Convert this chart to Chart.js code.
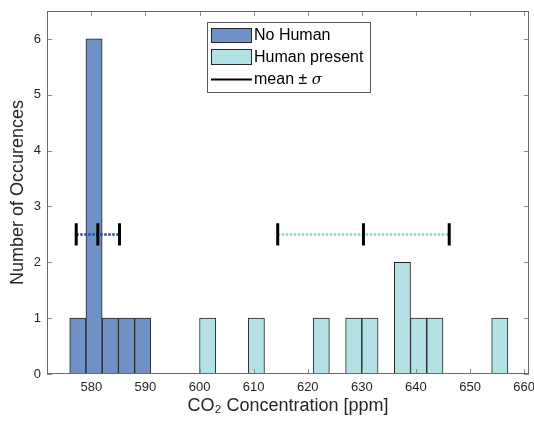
<!DOCTYPE html>
<html>
<head>
<meta charset="utf-8">
<script src="https://cdn.jsdelivr.net/npm/chart.js@4/dist/chart.umd.min.js"></script>
<style>
  html, body { margin: 0; padding: 0; background: #fff; }
  canvas { display: block; }
</style>
</head>
<body>
<canvas id="chart" width="534" height="426"></canvas>
<script>
// Histogram bins (bin width 3 ppm)
const noHumanCenters = [577.5, 580.5, 583.5, 586.5, 589.5];
const noHumanCounts = [1, 6, 1, 1, 1];
const humanCenters = [601.5, 610.5, 622.5, 628.5, 631.5, 637.5, 640.5, 643.5, 655.5];
const humanCounts = [1, 1, 1, 1, 1, 2, 1, 1, 1];
// empty human bins still leave their edge on the baseline
const humanBinRange = [600, 657];

// mean +- sigma markers
const groupMeans = [581.2, 630.3];
const groupSigmas = [4.0, 15.85];
const markerLevel = 2.5;
const capHalfHeight = 0.2;

const xTicks = [580, 590, 600, 610, 620, 630, 640, 650, 660];
const yTicks = [0, 1, 2, 3, 4, 5, 6];
const legendLabels = ['No Human', 'Human present', 'mean \u00b1 '];

const COLORS = {
    noHuman: '#7091c5',
    human: '#b4e2e4',
    edge: '#262626',
    noHumanMean: '#1d4f9f',
    humanMean: '#86d3d6',
    text: '#262626'
};
const FONT = '"Liberation Sans", Arial, sans-serif';

function toPoints(xs, ys) {
    return xs.map((x, i) => ({ x: x, y: ys[i] }));
}

// horizontal dotted line for one group
function meanLine(i) {
    return [
        { x: groupMeans[i] - groupSigmas[i], y: markerLevel },
        { x: groupMeans[i] + groupSigmas[i], y: markerLevel }
    ];
}

// three vertical caps (left, mean, right) separated by gaps
function meanCaps(i) {
    const pts = [];
    [-1, 0, 1].forEach(k => {
        const x = groupMeans[i] + k * groupSigmas[i];
        pts.push({ x: x, y: markerLevel - capHalfHeight });
        pts.push({ x: x, y: markerLevel + capHalfHeight });
        pts.push({ x: x, y: null });
    });
    return pts;
}

// MATLAB style box with inward ticks
const axesBox = {
    id: 'axesBox',
    afterDatasetsDraw(chart) {
        const { ctx, chartArea: a, scales } = chart;
        ctx.save();
        ctx.lineWidth = 1;
        ctx.strokeStyle = '#8c8c8c';
        ctx.beginPath();
        xTicks.forEach(v => {
            const px = Math.round(scales.x.getPixelForValue(v)) + 0.5;
            ctx.moveTo(px, a.bottom); ctx.lineTo(px, a.bottom - 5);
            ctx.moveTo(px, a.top); ctx.lineTo(px, a.top + 5);
        });
        yTicks.forEach(v => {
            const py = Math.round(scales.y.getPixelForValue(v)) + 0.5;
            ctx.moveTo(a.left, py); ctx.lineTo(a.left + 5, py);
            ctx.moveTo(a.right, py); ctx.lineTo(a.right - 5, py);
        });
        ctx.stroke();
        ctx.strokeStyle = '#6a6a6a';
        ctx.strokeRect(Math.round(a.left) + 0.5, Math.round(a.top) + 0.5,
            Math.round(a.right - a.left) - 1, Math.round(a.bottom - a.top) - 1);
        ctx.restore();
    }
};

// legend box in the upper middle of the axes
const boxLegend = {
    id: 'boxLegend',
    afterDraw(chart) {
        const { ctx, chartArea: a } = chart;
        const left = a.left + 160, top = a.top + 11;
        ctx.save();
        ctx.fillStyle = '#fff';
        ctx.fillRect(left, top, 163, 70);
        ctx.strokeStyle = '#5a5a5a';
        ctx.lineWidth = 1;
        ctx.strokeRect(left + 0.5, top + 0.5, 163, 70);

        ctx.fillStyle = COLORS.noHuman;
        ctx.fillRect(left + 4, top + 6, 41, 15);
        ctx.fillStyle = COLORS.human;
        ctx.fillRect(left + 4, top + 27, 41, 16);
        ctx.strokeStyle = COLORS.edge;
        ctx.strokeRect(left + 4.5, top + 6.5, 40, 14);
        ctx.strokeRect(left + 4.5, top + 27.5, 40, 15);
        ctx.strokeStyle = '#000';
        ctx.lineWidth = 2;
        ctx.beginPath();
        ctx.moveTo(left + 4, top + 57.5);
        ctx.lineTo(left + 45, top + 57.5);
        ctx.stroke();

        ctx.fillStyle = '#000';
        ctx.textBaseline = 'middle';
        ctx.font = '16px ' + FONT;
        ctx.fillText(legendLabels[0], left + 47, top + 14);
        ctx.fillText(legendLabels[1], left + 47, top + 36);
        ctx.fillText(legendLabels[2], left + 47, top + 57.5);
        const w = ctx.measureText(legendLabels[2]).width;
        ctx.font = 'italic 15px "DejaVu Serif", serif';
        ctx.fillText('\u03c3', left + 47 + w, top + 58);
        ctx.restore();
    }
};

const barStyle = {
    borderColor: COLORS.edge,
    borderWidth: 1,
    borderSkipped: false,
    barPercentage: 1,
    categoryPercentage: 1,
    grouped: false,
    order: 2
};

new Chart(document.getElementById('chart'), {
    type: 'bar',
    data: {
        datasets: [
            { label: 'No Human', data: toPoints(noHumanCenters, noHumanCounts), backgroundColor: COLORS.noHuman, ...barStyle },
            { label: 'Human present', data: toPoints(humanCenters, humanCounts), backgroundColor: COLORS.human, ...barStyle },
            {
                type: 'line', data: humanBinRange.map(x => ({ x: x, y: 0 })),
                borderColor: COLORS.edge, borderWidth: 1.5, pointRadius: 0, order: 1
            },
            {
                type: 'line', data: meanLine(0), borderColor: COLORS.noHumanMean,
                borderWidth: 2.5, borderDash: [2.5, 1.5], pointRadius: 0, order: 1
            },
            {
                type: 'line', data: meanLine(1), borderColor: COLORS.humanMean,
                borderWidth: 2.5, borderDash: [2.5, 1.5], pointRadius: 0, order: 1
            },
            {
                type: 'line', data: meanCaps(0), borderColor: '#000',
                borderWidth: 3, pointRadius: 0, spanGaps: false, order: 0
            },
            {
                type: 'line', data: meanCaps(1), borderColor: '#000',
                borderWidth: 3, pointRadius: 0, spanGaps: false, order: 0
            }
        ]
    },
    options: {
        responsive: false,
        animation: false,
        devicePixelRatio: 1,
        layout: { padding: { top: 11, right: 5, left: 0, bottom: 0 } },
        plugins: {
            legend: { display: false },
            tooltip: { enabled: false }
        },
        scales: {
            x: {
                type: 'linear',
                min: 571.8,
                max: 660.9,
                offset: false,
                grid: { display: false, drawTicks: false, offset: false },
                border: { display: false },
                afterBuildTicks: (scale) => { scale.ticks = xTicks.map(v => ({ value: v })); },
                afterFit: (scale) => {
                    scale.height = 52;
                    scale.paddingLeft = 0;
                    scale.paddingRight = 0;
                },
                ticks: {
                    autoSkip: false,
                    maxRotation: 0,
                    padding: 6,
                    color: COLORS.text,
                    font: { family: FONT, size: 13 }
                },
                title: {
                    display: true,
                    text: 'CO\u2082 Concentration [ppm]',
                    color: COLORS.text,
                    font: { family: FONT, size: 18 },
                    padding: { top: 0, bottom: 9 }
                }
            },
            y: {
                min: 0,
                max: 6.5,
                grid: { display: false, drawTicks: false },
                border: { display: false },
                afterBuildTicks: (scale) => { scale.ticks = yTicks.map(v => ({ value: v })); },
                afterFit: (scale) => {
                    scale.width = 47;
                    scale.paddingTop = 0;
                    scale.paddingBottom = 0;
                },
                ticks: {
                    padding: 6,
                    color: COLORS.text,
                    font: { family: FONT, size: 13 }
                },
                title: {
                    display: true,
                    text: 'Number of Occurences',
                    color: COLORS.text,
                    font: { family: FONT, size: 18 },
                    padding: { top: 7, bottom: 0 }
                }
            }
        }
    },
    plugins: [axesBox, boxLegend]
});
</script>
</body>
</html>
